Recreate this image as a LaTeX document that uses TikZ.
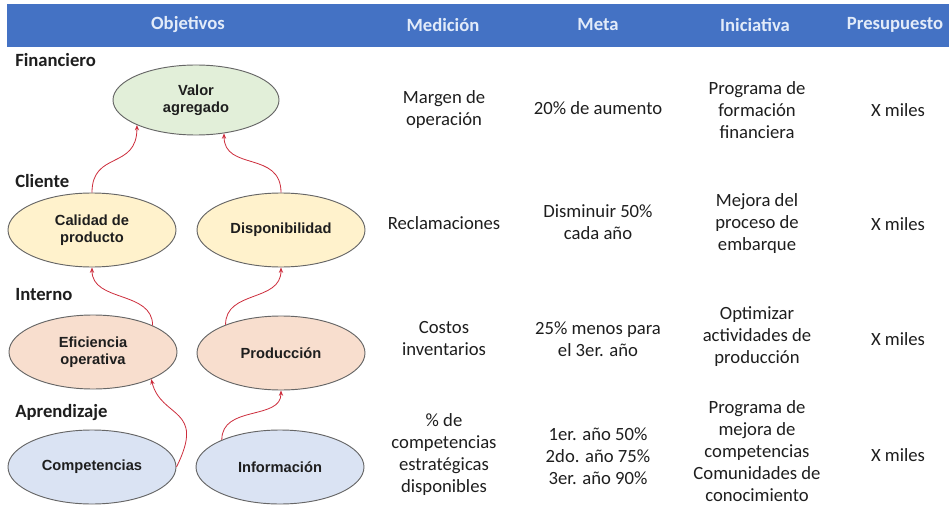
\documentclass[tikz,border=0pt]{standalone}
\usepackage{fontspec}
\setmainfont{Carlito}
\newfontfamily\ellfont{Liberation Sans}
\usetikzlibrary{shapes.geometric,arrows.meta}
\definecolor{hdrblue}{RGB}{68,114,196}
\definecolor{hdrtext}{RGB}{226,235,249}
\definecolor{valfill}{RGB}{226,239,217}
\definecolor{clifill}{RGB}{255,242,204}
\definecolor{intfill}{RGB}{248,222,206}
\definecolor{aprfill}{RGB}{218,227,243}
\definecolor{linkred}{RGB}{205,45,60}
\definecolor{txt}{RGB}{30,30,30}
\begin{document}
\begin{tikzpicture}[x=0.75pt,y=-0.75pt,
  hdr/.style={text=hdrtext,inner sep=0,font=\fontsize{14}{17}\selectfont\bfseries},
  lbl/.style={anchor=base west,text=txt,inner sep=0,font=\fontsize{14}{17}\selectfont\bfseries},
  cell/.style={align=center,text=txt,inner sep=0,font=\fontsize{14}{16.5}\selectfont},
  obj/.style={ellipse,draw=black!60,line width=0.7pt,minimum width=126pt,minimum height=55.5pt,
    inner sep=0,align=center,text=txt,font=\ellfont\fontsize{11}{12.5}\selectfont\bfseries},
  link/.style={draw=linkred,line width=0.6pt,-{Stealth[length=4pt,width=3.2pt]}}]
\useasboundingbox (0,0) rectangle (949,506);
\fill[white] (0,0) rectangle (949,506);
\fill[hdrblue] (7,4) rectangle (949,47);
% header
\node[hdr] (hobj) at (188,25) {Objetivos};
\node[hdr] (hmed) at (443,25) {Medición};
\node[hdr] (hmeta) at (598,25) {Meta};
\node[hdr] (hini) at (755,25) {Iniciativa};
\node[hdr] (hpre) at (895,25) {Presupuesto};
% perspective labels
\node[lbl] (lfin) at (15,67) {Financiero};
\node[lbl] (lcli) at (15,188) {Cliente};
\node[lbl] (lint) at (15,300) {Interno};
\node[lbl] (lapr) at (15,417) {Aprendizaje};
% objectives
\node[obj,fill=valfill,minimum width=124.5pt,minimum height=52.5pt] (valor) at (196,100) {Valor\\agregado};
\node[obj,fill=clifill] (calidad) at (92,230) {Calidad de\\producto};
\node[obj,fill=clifill] (dispo) at (281,230) {Disponibilidad};
\node[obj,fill=intfill] (efic) at (93,352) {Eficiencia\\operativa};
\node[obj,fill=intfill] (prod) at (281,353) {Producción};
\node[obj,fill=aprfill] (comp) at (92,467) {Competencias};
\node[obj,fill=aprfill] (info) at (280,467) {Información};
% links
\draw[link] (calidad.north) .. controls +(0,-42) and +(0,45) .. (valor.203);
\draw[link] (dispo.north) .. controls +(0,-42) and +(0,38) .. (valor.310);
\draw[link] (efic.24) .. controls +(0,-35) and +(0,35) .. (calidad.south);
\draw[link] (prod.153) .. controls +(0,-35) and +(0,35) .. (dispo.south);
\draw[link] (comp.east) .. controls +(30,-60) and +(10,40) .. (efic.335);
\draw[link] (info.155) .. controls +(0,-35) and +(0,30) .. (prod.south);
% row 1
\node[cell] (m1) at (444,110) {Margen de\\operación};
\node[cell] (t1) at (598,108) {20\% de aumento};
\node[cell] (i1) at (757,110) {Programa de\\formación\\financiera};
\node[cell] (p1) at (898,110) {X miles};
% row 2
\node[cell] (m2) at (444,223) {Reclamaciones};
\node[cell] (t2) at (598,222) {Disminuir 50\%\\cada año};
\node[cell] (i2) at (757,224) {Mejora del\\proceso de\\embarque};
\node[cell] (p2) at (898,224) {X miles};
% row 3
\node[cell] (m3) at (444,339) {Costos\\inventarios};
\node[cell] (t3) at (598,339) {25\% menos para\\el 3er. año};
\node[cell] (i3) at (757,337) {Optimizar\\actividades de\\producción};
\node[cell] (p3) at (898,339) {X miles};
% row 4
\node[cell] (m4) at (444,455) {\% de\\competencias\\estratégicas\\disponibles};
\node[cell] (t4) at (598,456) {1er. año 50\%\\2do. año 75\%\\3er. año 90\%};
\node[cell] (i4) at (757,451) {Programa de\\mejora de\\competencias\\Comunidades de\\conocimiento};
\node[cell] (p4) at (898,455) {X miles};
\end{tikzpicture}
\end{document}
